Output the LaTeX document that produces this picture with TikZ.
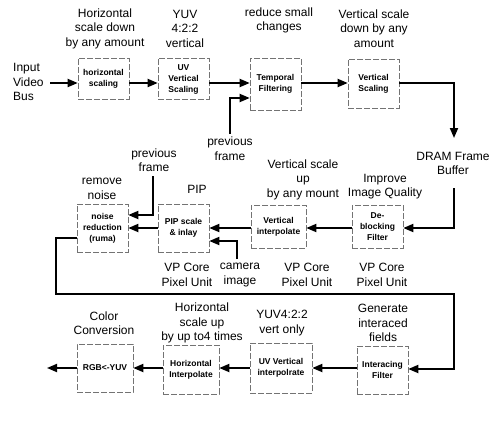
\documentclass[tikz,border=0pt]{standalone}
\usepackage{fontspec}
\setmainfont{Liberation Sans}
\usetikzlibrary{arrows.meta}
\begin{document}
\begin{tikzpicture}[x=1pt,y=-1pt,
  blk/.style={draw=black!55, line width=0.6pt, dash pattern=on 6pt off 2pt, fill=white,
    inner sep=1pt, align=center, font=\fontsize{8.5}{11}\selectfont\bfseries},
  lbl/.style={align=center, inner sep=0pt, font=\fontsize{12}{14.5}\selectfont},
  arr/.style={line width=1.8pt, -{Triangle[length=10pt,width=8pt]}},
  ln/.style={line width=1.8pt}]
\useasboundingbox (0,0) rectangle (500,425);
% row 1 boxes
\node[blk, minimum width=51pt, minimum height=41pt] (hs) at (103.5,79) {horizontal\\scaling};
\node[blk, minimum width=51pt, minimum height=41pt] (uv) at (183.5,79) {UV\\Vertical\\Scaling};
\node[blk, minimum width=51pt, minimum height=52pt] (tf) at (275.5,84) {Temporal\\Filtering};
\node[blk, minimum width=51pt, minimum height=49pt] (vs) at (373.5,83.5) {Vertical\\Scaling};
% row 2 boxes
\node[blk, minimum width=51pt, minimum height=43pt] (db) at (377.5,226.5) {De-\\blocking\\Filter};
\node[blk, minimum width=55pt, minimum height=43pt] (vi) at (278.5,226.5) {Vertical\\interpolate};
\node[blk, minimum width=51pt, minimum height=48pt] (pip) at (183.5,228) {PIP scale\\\& inlay};
\node[blk, minimum width=51pt, minimum height=48pt] (nr) at (102.5,228) {noise\\reduction\\(ruma)};
% row 3 boxes
\node[blk, minimum width=51pt, minimum height=48pt] (il) at (382.5,370) {Interacing\\Filter};
\node[blk, minimum width=62pt, minimum height=50pt] (uvi) at (281,368) {UV Vertical\\interpolrate};
\node[blk, minimum width=56pt, minimum height=49pt] (hi) at (191,369.5) {Horizontal\\Interpolate};
\node[blk, minimum width=56pt, minimum height=48pt] (rgb) at (105,368) {RGB<-YUV};
% labels
\node[lbl, align=left, anchor=west] (inp) at (13,82) {Input\\Video\\Bus};
\node[lbl] (l1) at (105,28.5) {Horizontal\\scale down\\by any amount};
\node[lbl] (l2) at (185,28.5) {YUV\\4:2:2\\vertical};
\node[lbl] (l3) at (279,20.5) {reduce small\\changes};
\node[lbl] (l4) at (374,28.5) {Vertical scale\\down by any\\amount};
\node[lbl] (dram) at (453,163.5) {DRAM Frame\\Buffer};
\node[lbl] (pf1) at (230,148.5) {previous\\frame};
\node[lbl] (l5) at (303,179.5) {Vertical scale\\up\\by any mount};
\node[lbl] (l6) at (385,186.5) {Improve\\Image Quality};
\node[lbl] (pf2) at (154,160) {previous\\frame};
\node[lbl] (l7) at (102,189) {remove\\noise};
\node[lbl] (l8) at (197,189) {PIP};
\node[lbl] (vp1) at (187,275) {VP Core\\Pixel Unit};
\node[lbl] (cam) at (240,275) {camera\\image};
\node[lbl] (vp2) at (307,275) {VP Core\\Pixel Unit};
\node[lbl] (vp3) at (382,275) {VP Core\\Pixel Unit};
\node[lbl] (l9) at (104,323) {Color\\Conversion};
\node[lbl] (l10) at (202,323) {Horizontal\\scale up\\by up to4 times};
\node[lbl] (l11) at (282,323) {YUV4:2:2\\vert only};
\node[lbl] (l12) at (383,323) {Generate\\interaced\\fields};
% coordinates
\coordinate (inS) at (50,83);
\coordinate (pf1S) at (230,134);
\coordinate (vsC) at (454,83);
\coordinate (dramT) at (454,138);
\coordinate (dramB) at (454,188);
\coordinate (camS) at (237,259);
\coordinate (pf2S) at (153,176);
\coordinate (nrC1) at (56,238);
\coordinate (nrC2) at (56,294);
\coordinate (nrC3) at (454,294);
\coordinate (outE) at (47,368);
% connectors row 1
\draw[arr] (inS) -- (inS -| hs.west);
\draw[arr] (hs.east |- inS) -- (uv.west |- inS);
\draw[arr] (uv.east |- inS) -- (tf.west |- inS);
\draw[arr] (pf1S) -- (230,98) -- (tf.west |- 0,98);
\draw[arr] (tf.east |- inS) -- (vs.west |- inS);
\draw[arr] (vs.east |- vsC) -- (vsC) -- (dramT);
% row 2
\draw[arr] (dramB) -- (dramB |- 0,228) -- (db.east |- 0,228);
\draw[arr] (db.west |- 0,228) -- (vi.east |- 0,228);
\draw[arr] (vi.west |- 0,228) -- (pip.east |- 0,228);
\draw[arr] (camS) -- (camS |- 0,241) -- (pip.east |- 0,241);
\draw[arr] (pip.west |- 0,228) -- (nr.east |- 0,228);
\draw[arr] (pf2S) -- (pf2S |- 0,215) -- (nr.east |- 0,215);
\draw[arr] (nr.west |- nrC1) -- (nrC1) -- (nrC2) -- (nrC3) -- (nrC3 |- 0,369) -- (il.east |- 0,369);
% row 3
\draw[arr] (il.west |- 0,368) -- (uvi.east |- 0,368);
\draw[arr] (uvi.west |- 0,368) -- (hi.east |- 0,368);
\draw[arr] (hi.west |- 0,368) -- (rgb.east |- 0,368);
\draw[arr] (rgb.west |- outE) -- (outE);
\end{tikzpicture}
\end{document}
